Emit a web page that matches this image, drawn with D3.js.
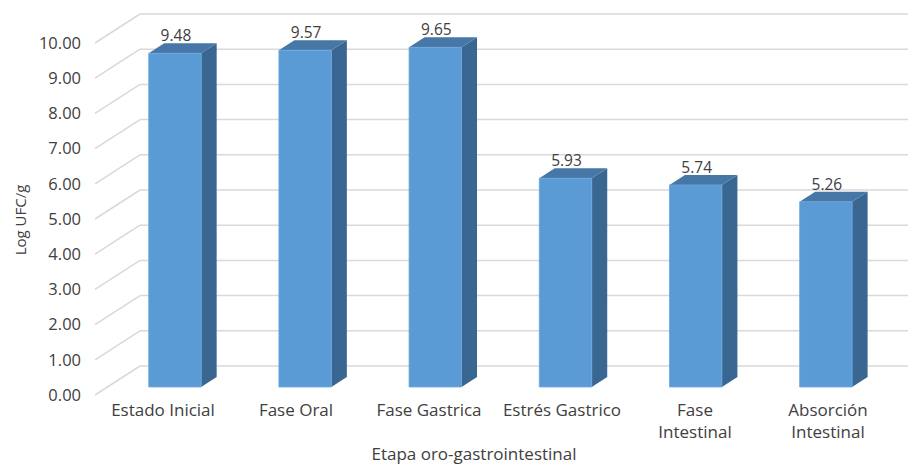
<!DOCTYPE html>
<html>
<head>
<meta charset="utf-8">
<script src="https://cdn.jsdelivr.net/npm/d3@7"></script>
<style>
  html, body { margin: 0; padding: 0; background: #ffffff; }
  svg { display: block; }
  text { font-family: "Open Sans", "Noto Sans", sans-serif; fill: #404040; }
</style>
</head>
<body>
<svg id="chart" width="908" height="464"></svg>
<script>
// Chart data
const categories = ["Estado Inicial", "Fase Oral", "Fase Gastrica", "Estrés Gastrico", "Fase Intestinal", "Absorción Intestinal"];
const categoryLines = [["Estado Inicial"], ["Fase Oral"], ["Fase Gastrica"], ["Estrés Gastrico"], ["Fase", "Intestinal"], ["Absorción", "Intestinal"]];
const values = [9.48, 9.57, 9.65, 5.93, 5.74, 5.26];
const yTicks = [0, 1, 2, 3, 4, 5, 6, 7, 8, 9, 10];
const yTitle = "Log UFC/g";
const xTitle = "Etapa oro-gastrointestinal";

const svg = d3.select("#chart");
const W = 908, H = 464;

// 3D box geometry: depth offset from front plane to back wall
const depthDX = 45, depthDY = -29;
const frontLeft = 95;

// Scales on the front plane
const y = d3.scaleLinear().domain([0, 10]).range([395, 43]);
const x = d3.scaleBand().domain(categories).range([97.5, 878.5]).paddingInner(0.597).paddingOuter(0.298);
// Category axis along the projected floor edge (slightly wider spread)
const xLabel = d3.scaleBand().domain(categories).range([96.5, 894.5]);

// Project a point on the front plane to a given depth fraction (0 = front, 1 = back wall)
const proj = (px, v, d) => [px + d * depthDX, y(v) + d * depthDY];

// Gridlines: diagonal on the left side wall, horizontal on the back wall
const grid = svg.append("g").attr("stroke", "#d9d9d9").attr("stroke-width", 1.5).attr("fill", "none");
yTicks.forEach(t => {
  const a = proj(frontLeft, t, 0), b = proj(frontLeft, t, 1);
  grid.append("line").attr("x1", a[0]).attr("y1", a[1]).attr("x2", b[0]).attr("y2", b[1]);
  grid.append("line").attr("x1", b[0]).attr("y1", b[1]).attr("x2", W).attr("y2", b[1]);
});

// Y axis tick labels
svg.append("g").selectAll("text").data(yTicks).join("text")
  .attr("x", 81).attr("y", d => y(d)).attr("dy", "0.35em")
  .attr("text-anchor", "end").attr("font-size", 16.5)
  .text(d => d3.format(".2f")(d));

// Bars as prisms sitting in the middle of the depth
const d0 = 0.276, d1 = 0.62;
const colFront = "#5b9bd5", colSide = "#3a6791", colTop = "#4677a7";
const bars = svg.append("g");
categories.forEach((c, i) => {
  const v = values[i];
  const xl = x(c), xr = x(c) + x.bandwidth();
  const fl0 = proj(xl, 0, d0), fr0 = proj(xr, 0, d0), flv = proj(xl, v, d0), frv = proj(xr, v, d0);
  const br0 = proj(xr, 0, d1), blv = proj(xl, v, d1), brv = proj(xr, v, d1);
  const pts = p => p.map(q => q.join(",")).join(" ");
  bars.append("polygon").attr("points", pts([fr0, frv, brv, br0])).attr("fill", colSide);
  bars.append("polygon").attr("points", pts([flv, frv, brv, blv])).attr("fill", colTop);
  bars.append("polygon").attr("points", pts([fl0, flv, frv, fr0])).attr("fill", colFront)
    .attr("stroke", "#6aa6dc").attr("stroke-width", 0.8);
  // value label above the bar
  const cx = (xl + xr) / 2;
  const top = proj(cx, v, d1);
  bars.append("text").attr("x", proj(cx, v, d0)[0] + 1).attr("y", top[1] - 2)
    .attr("text-anchor", "middle").attr("font-size", 15.5).text(d3.format(".2f")(v));
});

// Category labels along the front floor edge
const catG = svg.append("g");
categories.forEach((c, i) => {
  const cx = xLabel(c) + xLabel.bandwidth() / 2;
  const t = catG.append("text").attr("x", cx).attr("y", 416)
    .attr("text-anchor", "middle").attr("font-size", 17);
  categoryLines[i].forEach((ln, k) => {
    t.append("tspan").attr("x", cx).attr("dy", k === 0 ? 0 : 22).text(ln);
  });
});

// Axis titles
svg.append("text").attr("transform", "translate(26,220) rotate(-90)")
  .attr("text-anchor", "middle").attr("font-size", 15).text(yTitle);
svg.append("text").attr("x", 474).attr("y", 460)
  .attr("text-anchor", "middle").attr("font-size", 17).text(xTitle);
</script>
</body>
</html>
